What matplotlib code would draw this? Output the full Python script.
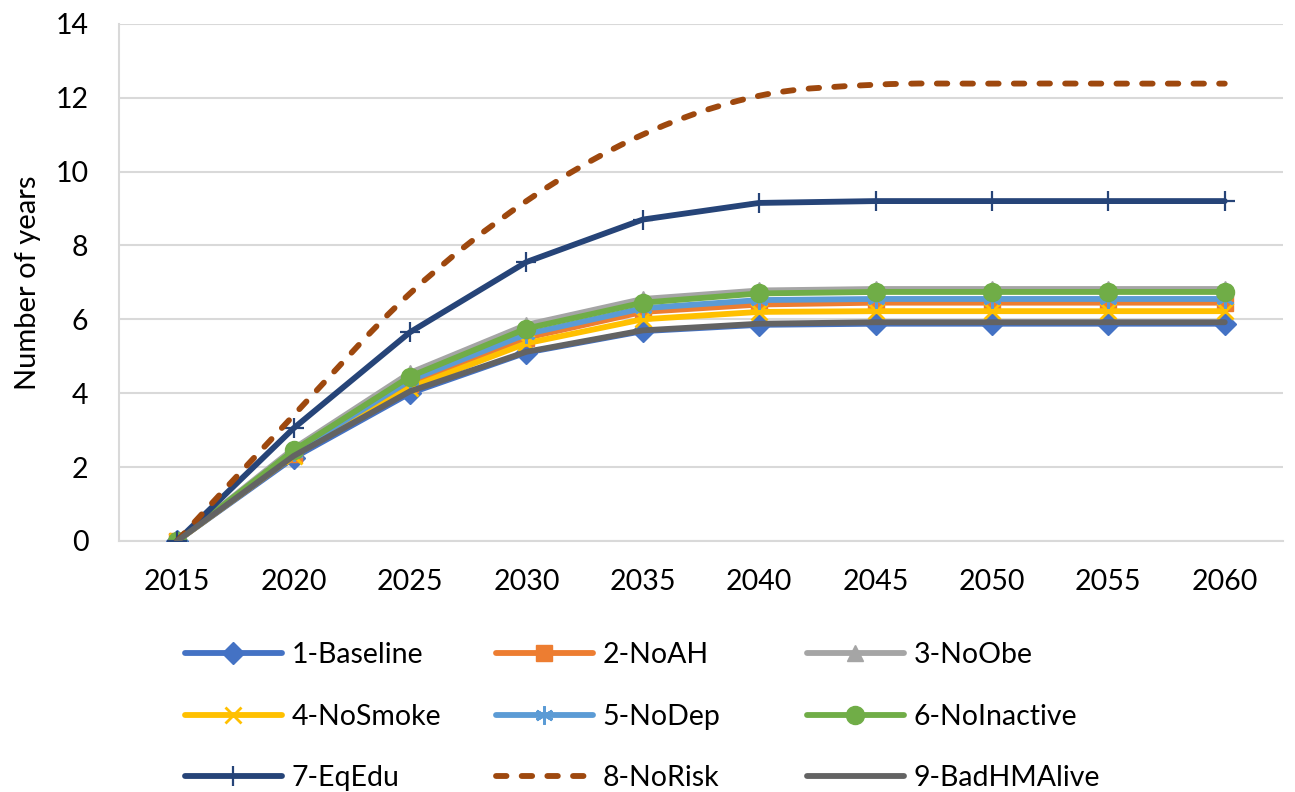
import numpy as np
import matplotlib.pyplot as plt
from matplotlib.path import Path
from matplotlib.patches import PathPatch
from matplotlib.lines import Line2D

plt.rcParams['font.family'] = ['Lato', 'DejaVu Sans']

years = [2015, 2020, 2025, 2030, 2035, 2040, 2045, 2050, 2055, 2060]

baseline   = [0, 2.25, 4.00, 5.10, 5.68, 5.85, 5.88, 5.88, 5.88, 5.88]
no_ah      = [0, 2.35, 4.25, 5.50, 6.20, 6.40, 6.45, 6.45, 6.45, 6.45]
no_obe     = [0, 2.50, 4.55, 5.85, 6.55, 6.78, 6.82, 6.82, 6.82, 6.82]
no_smoke   = [0, 2.30, 4.15, 5.35, 6.00, 6.20, 6.22, 6.22, 6.22, 6.22]
no_dep     = [0, 2.40, 4.35, 5.60, 6.30, 6.52, 6.55, 6.55, 6.55, 6.55]
no_inact   = [0, 2.45, 4.45, 5.75, 6.45, 6.70, 6.74, 6.74, 6.74, 6.74]
eq_edu     = [0, 3.05, 5.65, 7.55, 8.70, 9.15, 9.20, 9.20, 9.20, 9.20]
no_risk    = [0, 3.40, 6.70, 9.20, 11.00, 12.05, 12.35, 12.38, 12.38, 12.38]
bad_hm     = [0, 2.30, 4.05, 5.12, 5.70, 5.88, 5.92, 5.92, 5.92, 5.92]

labels = ['1-Baseline', '2-NoAH', '3-NoObe', '4-NoSmoke', '5-NoDep',
          '6-NoInactive', '7-EqEdu', '8-NoRisk', '9-BadHMAlive']
series = [baseline, no_ah, no_obe, no_smoke, no_dep, no_inact, eq_edu, no_risk, bad_hm]
colors = ['#4472C4', '#ED7D31', '#A5A5A5', '#FFC000', '#5B9BD5',
          '#70AD47', '#264478', '#9E480E', '#636363']
markers = ['D', 's', '^', 'x', (6, 2, 0), 'o', '+', None, None]
msizes = [11, 11, 12, 12, 13, 13, 15, 0, 0]

LW = 4.2
DASH = (0, (1.8, 2.6))


def smooth_path(xs, ys):
    # cubic bezier through every point (catmull-rom style smoothing)
    pts = np.column_stack([xs, ys]).astype(float)
    verts = [pts[0]]
    codes = [Path.MOVETO]
    n = len(pts)
    for i in range(n - 1):
        p0 = pts[max(i - 1, 0)]
        p1 = pts[i]
        p2 = pts[i + 1]
        p3 = pts[min(i + 2, n - 1)]
        c1 = p1 + (p2 - p0) / 6
        c2 = p2 - (p3 - p1) / 6
        verts += [c1, c2, p2]
        codes += [Path.CURVE4] * 3
    return Path(verts, codes)


fig = plt.figure(figsize=(12.95, 7.92), dpi=100)
ax = fig.add_axes([0.0919, 0.317, 0.8988, 0.653])

x = np.arange(len(years))
handles = []
for i, (vals, lab, col, mk, ms) in enumerate(zip(series, labels, colors, markers, msizes)):
    if lab == '8-NoRisk':
        patch = PathPatch(smooth_path(x, vals), fill=False, edgecolor=col,
                          lw=LW, linestyle=DASH, capstyle='round', zorder=3 + i)
        ax.add_patch(patch)
        handles.append(Line2D([], [], color=col, lw=LW, linestyle=DASH,
                              dash_capstyle='round'))
        continue
    kw = dict(color=col, lw=LW, label=lab, zorder=3 + i,
              solid_capstyle='round')
    if mk is not None:
        thin = mk in ('x', '+', (6, 2, 0))
        kw.update(marker=mk, markersize=ms, markeredgecolor=col,
                  markerfacecolor=col, markeredgewidth=2 if thin else 1)
    if lab == '7-EqEdu':
        kw.update(markeredgewidth=1.6)
    h, = ax.plot(x, vals, **kw)
    handles.append(h)

ax.set_xlim(-0.5, len(years) - 0.5)
ax.set_ylim(0, 14)
ax.set_yticks(range(0, 15, 2))
ax.set_xticks(x)
ax.set_xticklabels([str(y) for y in years])
ax.tick_params(axis='both', length=0, labelsize=20.5, colors='black')
ax.tick_params(axis='x', pad=20)
ax.tick_params(axis='y', pad=22)
ax.grid(axis='y', color='#D9D9D9', lw=1.5)
ax.set_axisbelow(True)
for s in ['top', 'right']:
    ax.spines[s].set_visible(False)
for s in ['left', 'bottom']:
    ax.spines[s].set_color('#D9D9D9')
    ax.spines[s].set_linewidth(1.5)
ax.set_ylabel('Number of years', fontsize=21, labelpad=10)

# one legend per column, three entries each
col_x = [185, 496, 807]
for c in range(3):
    idx = [3 * r + c for r in range(3)]
    fig.legend([handles[k] for k in idx], [labels[k] for k in idx],
               loc='upper left', bbox_to_anchor=(col_x[c] / 1295, 1 - 642 / 792),
               frameon=False, fontsize=20.5, handlelength=3.4, handletextpad=0.35,
               labelspacing=1.25, borderpad=0, borderaxespad=0)

fig.savefig('out.png', dpi=100)
